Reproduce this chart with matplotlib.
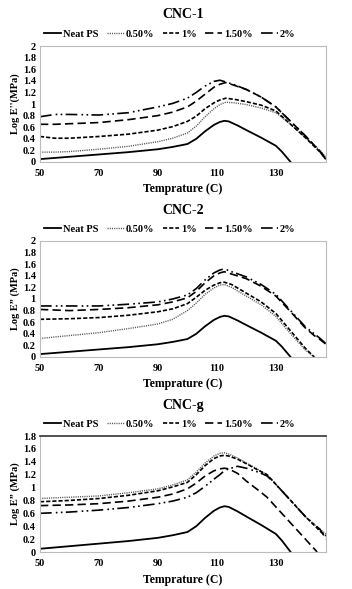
import matplotlib
matplotlib.use("Agg")
import matplotlib.pyplot as plt
from matplotlib.lines import Line2D

plt.rcParams["font.family"] = ["Liberation Serif", "DejaVu Serif"]
plt.rcParams["font.weight"] = "bold"

# ---------------------------------------------------------------------------
# Data
# ---------------------------------------------------------------------------

SERIES = ["Neat PS", "0.50%", "1%", "1.50%", "2%"]

neat_t = [50, 60, 70, 80, 90, 95, 100, 103, 106, 109, 111, 112.5, 114, 117, 120, 125, 130, 132, 134, 135]
neat_v = [0.05, 0.09, 0.13, 0.17, 0.22, 0.26, 0.31, 0.40, 0.53, 0.64, 0.69, 0.71, 0.70, 0.63, 0.55, 0.42, 0.28, 0.18, 0.06, 0.0]

# CNC-1
c1_t = [50, 55, 60, 70, 80, 90, 95, 100, 103, 106, 109, 111, 113, 116, 120, 125, 130, 135, 140, 145, 147]
c1_050 = [0.17, 0.17, 0.18, 0.22, 0.27, 0.35, 0.41, 0.50, 0.62, 0.78, 0.92, 0.99, 1.03, 1.02, 0.99, 0.93, 0.85, 0.65, 0.42, 0.20, 0.08]
c1_1 = [0.44, 0.41, 0.41, 0.44, 0.48, 0.55, 0.61, 0.70, 0.79, 0.92, 1.02, 1.07, 1.10, 1.08, 1.04, 0.98, 0.88, 0.65, 0.42, 0.17, 0.05]
c1_150 = [0.65, 0.65, 0.66, 0.68, 0.73, 0.80, 0.86, 0.95, 1.05, 1.17, 1.29, 1.34, 1.37, 1.32, 1.25, 1.12, 0.95, 0.70, 0.45, 0.18, 0.05]
c1_2 = [0.78, 0.82, 0.82, 0.81, 0.85, 0.95, 1.01, 1.10, 1.20, 1.31, 1.39, 1.41, 1.38, 1.33, 1.25, 1.12, 0.95, 0.70, 0.45, 0.18, 0.04]

# CNC-2
c2_t = [50, 60, 70, 80, 90, 95, 100, 103, 106, 109, 111, 112.5, 115, 120, 125, 130, 135, 140, 143, 145, 147]
c2_050 = [0.32, 0.37, 0.42, 0.49, 0.57, 0.65, 0.80, 0.93, 1.08, 1.19, 1.24, 1.25, 1.20, 1.05, 0.90, 0.70, 0.40, 0.12, 0.0, None, None]
c2_1 = [0.65, 0.66, 0.68, 0.72, 0.78, 0.83, 0.92, 1.03, 1.15, 1.24, 1.28, 1.29, 1.25, 1.10, 0.95, 0.75, 0.45, 0.15, 0.0, None, None]
c2_150 = [0.82, 0.80, 0.82, 0.85, 0.90, 0.95, 1.02, 1.13, 1.28, 1.40, 1.45, 1.47, 1.43, 1.35, 1.22, 1.05, 0.78, 0.50, 0.37, 0.30, 0.22]
c2_2 = [0.88, 0.88, 0.88, 0.91, 0.95, 1.00, 1.07, 1.18, 1.33, 1.45, 1.50, 1.52, 1.47, 1.38, 1.25, 1.08, 0.80, 0.52, 0.40, 0.32, 0.23]

# CNC-g
cg_t = [50, 60, 70, 80, 90, 95, 100, 103, 106, 109, 111, 112.5, 114, 117, 120, 124, 127, 130, 135, 140, 144, 145, 147]
cg_050 = [0.83, 0.85, 0.87, 0.92, 0.98, 1.04, 1.12, 1.24, 1.38, 1.49, 1.53, 1.54, 1.52, 1.46, 1.38, 1.28, 1.20, 1.05, 0.80, 0.55, 0.39, 0.35, 0.28]
cg_1 = [0.78, 0.80, 0.83, 0.88, 0.95, 1.01, 1.08, 1.20, 1.34, 1.45, 1.49, 1.50, 1.49, 1.44, 1.37, 1.27, 1.20, 1.05, 0.80, 0.55, 0.37, 0.32, 0.25]
cg_150 = [0.72, 0.73, 0.75, 0.79, 0.85, 0.90, 0.98, 1.07, 1.18, 1.26, 1.29, 1.30, 1.29, 1.22, 1.10, 0.96, 0.85, 0.70, 0.45, 0.20, 0.0, None, None]
cg_2 = [0.60, 0.62, 0.65, 0.69, 0.75, 0.79, 0.85, 0.92, 1.02, 1.13, 1.20, 1.26, 1.29, 1.33, 1.30, 1.24, 1.18, 1.05, 0.80, 0.55, 0.39, 0.35, 0.20]

PANELS = [
    ("CNC-1", c1_t, [c1_050, c1_1, c1_150, c1_2], 2.0, "Log E''(MPa)"),
    ("CNC-2", c2_t, [c2_050, c2_1, c2_150, c2_2], 2.0, "Log E\u201d (MPa)"),
    ("CNC-g", cg_t, [cg_050, cg_1, cg_150, cg_2], 1.8, "Log E\u201d (MPa)"),
]

STYLES = [
    dict(color="black", linestyle="-", linewidth=1.3),
    dict(color="#555555", linestyle=(0, (0.8, 0.8)), linewidth=1.0),
    dict(color="black", linestyle=(0, (2.5, 1.2)), linewidth=1.2),
    dict(color="black", linestyle=(0, (5, 2.5)), linewidth=1.2),
    dict(color="black", linestyle=(0, (7, 2.5, 1, 2, 1, 2)), linewidth=1.2),
]


def _clean(t, v):
    pts = [(a, b) for a, b in zip(t, v) if b is not None]
    return [p[0] for p in pts], [p[1] for p in pts]


# ---------------------------------------------------------------------------
# Plot
# ---------------------------------------------------------------------------

W, H = 352, 589
fig = plt.figure(figsize=(W / 100, H / 100), dpi=100)

for i, (title, t, series, ymax, ylabel) in enumerate(PANELS):
    off = i * 195
    top_px, bot_px = 46 + off, 162 + off
    ax = fig.add_axes([40 / W, 1 - bot_px / H, 286 / W, (bot_px - top_px) / H])

    ax.plot(neat_t, neat_v, **STYLES[0])
    for vals, st in zip(series, STYLES[1:]):
        x, y = _clean(t, vals)
        ax.plot(x, y, **st)

    ax.set_xlim(50, 147)
    ax.set_ylim(0, ymax)
    ax.set_xticks([50, 70, 90, 110, 130])
    yt = [round(0.2 * k, 1) for k in range(int(round(ymax / 0.2)) + 1)]
    ax.set_yticks(yt)
    ax.set_yticklabels([f"{v:g}" for v in yt])
    ax.tick_params(axis="y", length=0, labelsize=7.5, pad=3)
    ax.tick_params(axis="x", length=0, labelsize=7.5, pad=5)
    for lab in ax.get_xticklabels() + ax.get_yticklabels():
        lab.set_fontweight("bold")
    for s in ax.spines.values():
        s.set_color("#BBBBBB")
        s.set_linewidth(0.8)
    if i == 2:
        ax.spines["top"].set_color("#333333")
        ax.spines["top"].set_linewidth(1.2)

    ax.set_ylabel(ylabel, fontsize=7.5, fontweight="bold", labelpad=2)
    ax.set_xlabel("Temprature (C)", fontsize=8.5, fontweight="bold", labelpad=4)

    fig.text(183 / W, 1 - (15 + off) / H, title, ha="center", va="center",
             fontsize=10, fontweight="bold")

    handles = [Line2D([], [], **st) for st in STYLES]
    fig.legend(handles, SERIES, loc="center", ncol=5,
               bbox_to_anchor=(170 / W, 1 - (34 + off) / H),
               frameon=False, handlelength=1.6,
               handletextpad=0.2, columnspacing=0.8,
               prop=dict(weight="bold", size=7.5))

fig.savefig("out.png", dpi=100, facecolor="white")
